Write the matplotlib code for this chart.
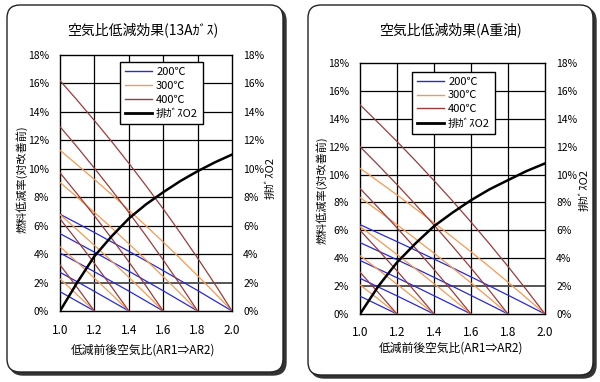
import matplotlib
matplotlib.use("Agg")
import matplotlib.pyplot as plt
from matplotlib.patches import FancyBboxPatch
from matplotlib.transforms import IdentityTransform
from matplotlib.lines import Line2D
from matplotlib.ticker import FuncFormatter

plt.rcParams['font.family'] = ['Noto Sans CJK JP', 'DejaVu Sans']

# ---------------- data ----------------
x_steps = [1.0, 1.1, 1.2, 1.3, 1.4, 1.5, 1.6, 1.7, 1.8, 1.9, 2.0]
ar1_values = [1.2, 1.4, 1.6, 1.8, 2.0]
temps = ["200℃", "300℃", "400℃"]
o2_label = "排ｶﾞｽO2"

# fuel reduction (%) for 13A gas, one list per AR1 (from x=1.0 up to AR1)
gas_200 = [
    [1.36, 0.68, 0],
    [2.72, 2.06, 1.38, 0.69, 0],
    [4.08, 3.42, 2.76, 2.08, 1.40, 0.70, 0],
    [5.44, 4.79, 4.14, 3.47, 2.80, 2.11, 1.42, 0.71, 0],
    [6.80, 6.17, 5.52, 4.86, 4.20, 3.52, 2.84, 2.14, 1.44, 0.72, 0],
]
gas_300 = [
    [2.26, 1.14, 0],
    [4.52, 3.43, 2.31, 1.17, 0],
    [6.78, 5.71, 4.62, 3.51, 2.37, 1.20, 0],
    [9.04, 8.00, 6.93, 5.85, 4.73, 3.59, 2.42, 1.23, 0],
    [11.30, 10.28, 9.25, 8.19, 7.10, 5.99, 4.85, 3.68, 2.48, 1.26, 0],
]
gas_400 = [
    [3.24, 1.65, 0],
    [6.48, 4.94, 3.35, 1.70, 0],
    [9.72, 8.23, 6.70, 5.11, 3.46, 1.76, 0],
    [12.96, 11.53, 10.04, 8.51, 6.93, 5.29, 3.59, 1.83, 0],
    [16.20, 14.82, 13.39, 11.92, 10.39, 8.81, 7.18, 5.48, 3.72, 1.90, 0],
]
gas_o2 = [0, 2.0, 3.85, 5.25, 6.5, 7.5, 8.35, 9.14, 9.83, 10.45, 11.0]

# fuel reduction (%) for A heavy oil
oil_200 = [
    [1.28, 0.64, 0],
    [2.56, 1.93, 1.30, 0.65, 0],
    [3.84, 3.22, 2.60, 1.96, 1.31, 0.66, 0],
    [5.12, 4.51, 3.89, 3.27, 2.63, 1.99, 1.33, 0.67, 0],
    [6.41, 5.80, 5.19, 4.57, 3.94, 3.31, 2.66, 2.01, 1.35, 0.68, 0],
]
oil_300 = [
    [2.09, 1.06, 0],
    [4.18, 3.17, 2.13, 1.08, 0],
    [6.27, 5.28, 4.27, 3.24, 2.18, 1.10, 0],
    [8.36, 7.39, 6.40, 5.39, 4.36, 3.31, 2.23, 1.13, 0],
    [10.45, 9.50, 8.54, 7.55, 6.54, 5.51, 4.46, 3.38, 2.28, 1.15, 0],
]
oil_400 = [
    [3.00, 1.52, 0],
    [6.00, 4.57, 3.09, 1.57, 0],
    [9.00, 7.61, 6.18, 4.71, 3.19, 1.62, 0],
    [12.00, 10.66, 9.28, 7.85, 6.38, 4.86, 3.30, 1.68, 0],
    [15.00, 13.70, 12.37, 10.99, 9.57, 8.11, 6.59, 5.03, 3.41, 1.73, 0],
]
oil_o2 = [0, 2.01, 3.7, 5.06, 6.3, 7.27, 8.16, 8.94, 9.6, 10.25, 10.8]

titles = ["空気比低減効果(13Aｶﾞｽ)", "空気比低減効果(A重油)"]
xlabel = "低減前後空気比(AR1⇒AR2)"
ylabel = "燃料低減率(対改善前)"
y_ticks = [0, 2, 4, 6, 8, 10, 12, 14, 16, 18]
x_ticks = [1.0, 1.2, 1.4, 1.6, 1.8, 2.0]

colors = ["#2a2ad2", "#f39a52", "#9a3c3c"]

W, H = 600, 382
fig = plt.figure(figsize=(6, 3.82), dpi=100)
fig.patch.set_facecolor("white")


def fx(px):
    return px / W


def fy(py):
    return 1 - py / H


# panel frames (pixel coordinates, image top-left origin)
for (x0, y0, x1, y1) in [(7, 5, 283, 372), (308, 5, 593, 375)]:
    sh = FancyBboxPatch((x0 + 3, H - y1 - 3), x1 - x0, y1 - y0,
                        boxstyle="round,pad=0,rounding_size=13",
                        transform=IdentityTransform(), facecolor="#333333",
                        edgecolor="#333333", lw=1, zorder=-3)
    box = FancyBboxPatch((x0, H - y1), x1 - x0, y1 - y0,
                         boxstyle="round,pad=0,rounding_size=13",
                         transform=IdentityTransform(), facecolor="white",
                         edgecolor="#222222", lw=1.0, zorder=-2)
    fig.add_artist(sh)
    fig.add_artist(box)

panels = [
    dict(rect=(60, 55, 232, 311), data=[gas_200, gas_300, gas_400], o2=gas_o2,
         title_xy=(143, 30), xl_xy=(143, 350), yl_xy=(22, 179), yr_xy=(270, 178),
         leg=(0.349, 0.972)),
    dict(rect=(360, 63, 545, 314), data=[oil_200, oil_300, oil_400], o2=oil_o2,
         title_xy=(450, 30), xl_xy=(451, 348), yl_xy=(322, 190), yr_xy=(584, 190),
         leg=(0.281, 0.966)),
]

pct = FuncFormatter(lambda v, p: f"{int(round(v))}%")

for i, pn in enumerate(panels):
    l, t, r, b = pn["rect"]
    ax = fig.add_axes([fx(l), fy(b), fx(r) - fx(l), fy(t) - fy(b)])
    ax.set_facecolor("white")
    ax.set_xlim(1.0, 2.0)
    ax.set_ylim(0, 18)
    ax.set_xticks(x_ticks)
    ax.set_xticklabels([f"{v:.1f}" for v in x_ticks])
    ax.set_yticks(y_ticks)
    ax.yaxis.set_major_formatter(pct)
    ax.tick_params(length=0, labelsize=7.5, pad=8)
    ax.tick_params(axis='x', pad=9, labelsize=8.5)
    for s in ax.spines.values():
        s.set_color("black")
        s.set_linewidth(1.0)
    for xv in x_ticks[1:-1]:
        ax.axvline(xv, color="black", lw=0.9, zorder=1)
    for yv in y_ticks[1:-1]:
        ax.axhline(yv, color="#555555" if yv == 2 else "black",
                   lw=1.4 if yv == 2 else 0.9, zorder=1)

    for ti, series in enumerate(pn["data"]):
        for ar1, vals in zip(ar1_values, series):
            xs = x_steps[:len(vals)]
            ax.plot(xs, vals, color=colors[ti], lw=0.9, zorder=3)
    ax.plot(x_steps, pn["o2"], color="black", lw=1.8, zorder=4)

    ax2 = ax.twinx()
    ax2.set_ylim(0, 18)
    ax2.set_yticks(y_ticks)
    ax2.yaxis.set_major_formatter(pct)
    ax2.tick_params(length=0, labelsize=7.5, pad=8)
    for s in ax2.spines.values():
        s.set_visible(False)

    handles = [Line2D([], [], color=c, lw=1.0) for c in colors]
    handles.append(Line2D([], [], color="black", lw=2.0))
    leg = ax.legend(handles, temps + [o2_label], loc="upper left",
                    bbox_to_anchor=pn["leg"], fontsize=8, frameon=True,
                    fancybox=False, edgecolor="black", framealpha=1,
                    handlelength=2.4, handletextpad=0.4, labelspacing=0.35,
                    borderpad=0.45, borderaxespad=0)
    leg.get_frame().set_linewidth(1.0)
    leg.set_zorder(10)

    fig.text(fx(pn["title_xy"][0]), fy(pn["title_xy"][1]), titles[i],
             ha="center", va="center", fontsize=10)
    fig.text(fx(pn["xl_xy"][0]), fy(pn["xl_xy"][1]), xlabel,
             ha="center", va="center", fontsize=8.5)
    fig.text(fx(pn["yl_xy"][0]), fy(pn["yl_xy"][1]), ylabel,
             ha="center", va="center", fontsize=8, rotation=90)
    fig.text(fx(pn["yr_xy"][0]), fy(pn["yr_xy"][1]), o2_label,
             ha="center", va="center", fontsize=8, rotation=90)

fig.savefig("out.png", dpi=100)
